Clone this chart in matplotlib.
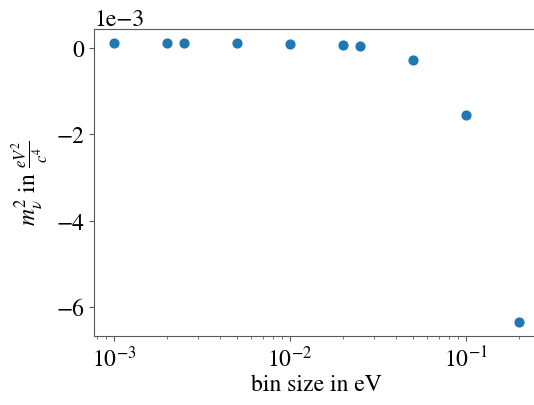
import matplotlib
matplotlib.use("Agg")
import matplotlib.pyplot as plt
import numpy as np

plt.rcParams['font.family'] = 'serif'
plt.rcParams['font.serif'] = ['STIXGeneral', 'Liberation Serif', 'DejaVu Serif']
plt.rcParams['mathtext.fontset'] = 'stix'
plt.rcParams['font.size'] = 17

bin_size = [0.001, 0.002, 0.0025, 0.005, 0.01, 0.02, 0.025, 0.05, 0.1, 0.2]
m_nu_sq = [0.115e-3, 0.115e-3, 0.115e-3, 0.115e-3, 0.10e-3, 0.07e-3, 0.05e-3,
           -0.28e-3, -1.55e-3, -6.35e-3]

fig = plt.figure(figsize=(5.34, 4.06), dpi=100)
ax = fig.add_axes([94/534, 1-337/406, (539-94)/534, (337-30)/406])
ax.scatter(bin_size, m_nu_sq, color='#1f77b4', s=40, zorder=3)
ax.set_xscale('log')
ax.set_xlabel('bin size in eV', labelpad=1.5)
ax.set_ylabel(r'$m_\nu^2$ in $\frac{eV^2}{c^4}$', labelpad=4)
for s in ax.spines.values():
    s.set_color('0.35')
ax.tick_params(colors='0.35', labelcolor='black')
ax.tick_params(which='minor', colors='0.35')
ax.ticklabel_format(axis='y', style='sci', scilimits=(0, 0))
ax.yaxis.get_offset_text().set_color('black')
ax.yaxis.get_offset_text().set_fontsize(17)
fig.savefig('out.png', dpi=100)
